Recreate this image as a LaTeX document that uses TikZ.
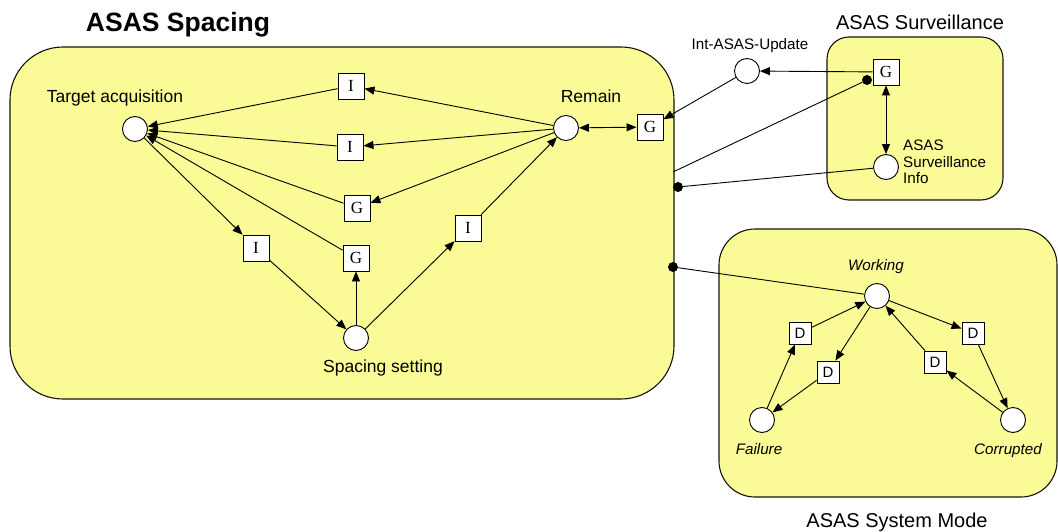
\documentclass[tikz,border=0pt]{standalone}
\usepackage{fontspec}
\setmainfont{Liberation Sans}
\newfontfamily\tnr{Liberation Serif}
\usetikzlibrary{arrows.meta}
\definecolor{boxfill}{RGB}{250,250,150}
\definecolor{edge}{RGB}{20,20,10}
\begin{document}
\begin{tikzpicture}[x=1pt,y=-1pt,
  group/.style={draw=edge, line width=1.1pt, fill=boxfill},
  place/.style={circle, draw=black, line width=0.9pt, fill=white, minimum size=25pt, inner sep=0pt},
  trans/.style={rectangle, draw=black, line width=0.9pt, fill=white, minimum size=26pt, inner sep=0pt, font=\tnr\fontsize{17}{17}\selectfont},
  dtrans/.style={rectangle, draw=black, line width=0.9pt, fill=white, minimum size=22pt, inner sep=0pt, font=\fontsize{15}{15}\selectfont},
  blob/.style={circle, fill=black, minimum size=10pt, inner sep=0pt},
  conn/.style={line width=0.9pt},
  arr/.style={conn, -{Triangle[length=10pt,width=8pt]}},
  darr/.style={conn, {Triangle[length=10pt,width=8pt]}-{Triangle[length=10pt,width=8pt]}},
  lbl/.style={anchor=base, inner sep=0pt, font=\fontsize{17.5}{17.5}\selectfont},
  slbl/.style={anchor=base, inner sep=0pt, font=\fontsize{15.2}{15.2}\selectfont},
  ilbl/.style={anchor=base, inner sep=0pt, font=\itshape\fontsize{15.2}{15.2}\selectfont},
  tlbl/.style={anchor=base, inner sep=0pt, font=\fontsize{20}{20}\selectfont}
]
\useasboundingbox (0,0) rectangle (1058,532);
% group boxes
\draw[group, rounded corners=53pt] (10,47) rectangle (674,399);
\draw[group, rounded corners=22pt] (827,37) rectangle (1003,200);
\draw[group, rounded corners=36pt] (719,229) rectangle (1057,497);
% titles
\node[anchor=base, inner sep=0pt, font=\bfseries\fontsize{26.5}{26.5}\selectfont] (t1) at (178,32) {ASAS Spacing};
\node[tlbl] (t2) at (920,29.5) {ASAS Surveillance};
\node[tlbl] (t3) at (897,527) {ASAS System Mode};
% ASAS Spacing
\node[place] (ta) at (135,129) {};
\node[place] (rem) at (566,128) {};
\node[place] (ss) at (356,338) {};
\node[trans] (i1) at (351,86) {I};
\node[trans] (i2) at (350,147) {I};
\node[trans] (g1) at (357,208) {G};
\node[trans] (g2) at (356,258) {G};
\node[trans] (i3) at (256,248) {I};
\node[trans] (i4) at (468,228) {I};
\node[trans] (g3) at (650,127) {G};
\node[lbl] (lta) at (115,102.5) {Target acquisition};
\node[lbl] (lrem) at (591,102.5) {Remain};
\node[lbl] (lss) at (383,372.5) {Spacing setting};
% ASAS Surveillance
\node[place] (upd) at (747,71) {};
\node[trans] (g4) at (886,72) {G};
\node[place] (info) at (886,167) {};
\node[blob] (b1) at (867,80) {};
\node[blob] (b2) at (678,187) {};
\coordinate (e1) at (673,172);
\node[slbl] (lupd) at (750,50) {Int-ASAS-Update};
\node[anchor=base west, inner sep=0pt, font=\fontsize{15.2}{15.2}\selectfont] (li1) at (903,151) {ASAS};
\node[anchor=base west, inner sep=0pt, font=\fontsize{15.2}{15.2}\selectfont] (li2) at (903,167.5) {Surveillance};
\node[anchor=base west, inner sep=0pt, font=\fontsize{15.2}{15.2}\selectfont] (li3) at (903,183.5) {Info};
% ASAS System Mode
\node[place] (wk) at (877,296) {};
\node[place] (fl) at (762,420) {};
\node[place] (cr) at (1013,420) {};
\node[dtrans] (D1) at (800,333) {D};
\node[dtrans] (D2) at (828,372) {D};
\node[dtrans] (D3) at (935,362) {D};
\node[dtrans] (D4) at (973,333) {D};
\node[blob] (b3) at (673,267) {};
\node[ilbl] (lwk) at (876,270) {Working};
\node[ilbl] (lfl) at (759,454) {Failure};
\node[ilbl] (lcr) at (1008,454) {Corrupted};
% connectors, ASAS Spacing
\draw[arr] (i1) -- (ta);
\draw[arr] (rem) -- (i1);
\draw[arr] (i2) -- (ta);
\draw[arr] (rem) -- (i2);
\draw[arr] (rem) -- (g1);
\draw[arr] (g1) -- (ta);
\draw[arr] (ta) -- (i3);
\draw[arr] (i3) -- (ss);
\draw[arr] (ss) -- (g2);
\draw[arr] (g2) -- (ta);
\draw[arr] (ss) -- (i4);
\draw[arr] (i4) -- (rem);
\draw[darr] (rem) -- (g3);
% connectors, Surveillance
\draw[arr] (g4) -- (upd);
\draw[arr] (upd) -- (g3);
\draw[darr] (g4) -- (info);
\draw[conn] (e1) -- (b1);
\draw[conn] (info) -- (b2);
% connectors, System Mode
\draw[conn] (wk) -- (b3);
\draw[arr] (fl) -- (D1);
\draw[arr] (D1) -- (wk);
\draw[arr] (wk) -- (D2);
\draw[arr] (D2) -- (fl);
\draw[arr] (wk) -- (D4);
\draw[arr] (D4) -- (cr);
\draw[arr] (cr) -- (D3);
\draw[arr] (D3) -- (wk);
\end{tikzpicture}
\end{document}
